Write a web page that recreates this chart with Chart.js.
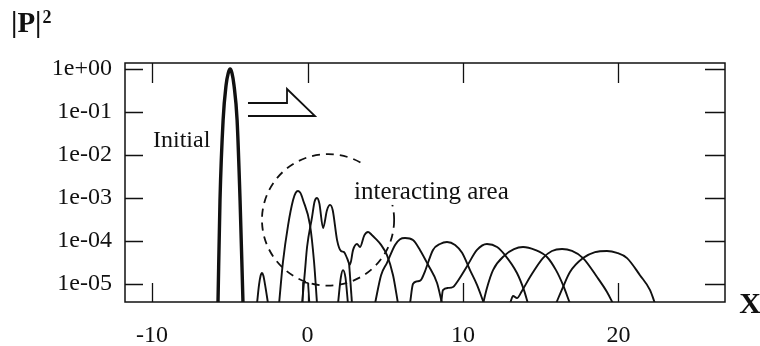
<!DOCTYPE html>
<html>
<head>
<meta charset="utf-8">
<script src="https://cdn.jsdelivr.net/npm/chart.js@4.4.1/dist/chart.umd.min.js"></script>
<style>
  html, body { margin: 0; padding: 0; background: #fff; }
  #wrap { width: 760px; height: 346px; position: relative; }
</style>
</head>
<body>
<div id="wrap"><canvas id="pulseChart"></canvas></div>
<script>
'use strict';

// axis ticks
const xTickValues = [-10, 0, 10, 20];
const xTickLabels = ['-10', '0', '10', '20'];
const yTickValues = [1, 1e-1, 1e-2, 1e-3, 1e-4, 1e-5];
const yTickLabels = ['1e+00', '1e-01', '1e-02', '1e-03', '1e-04', '1e-05'];

// |P|^2 profiles as [x, value]
const initialPulse = [
  [-5.76, 3.5e-6], [-5.63, 9e-4], [-5.43, 0.065], [-5.24, 0.42], [-5.10, 0.8], [-4.98, 1.0],
  [-4.86, 0.8], [-4.73, 0.42], [-4.53, 0.065], [-4.34, 9e-4], [-4.15, 3.5e-6]
];
const reflectedBump = [
  [-3.25, 3.5e-6], [-3.12, 9.5e-6], [-3.02, 1.55e-5], [-2.93, 1.8e-5], [-2.84, 1.55e-5],
  [-2.73, 9.5e-6], [-2.54, 3.5e-6]
];
const pulseA = [
  [-1.83, 3.5e-6], [-1.58, 3.25e-5], [-1.25, 2.35e-4], [-0.93, 9e-4], [-0.76, 1.32e-3],
  [-0.61, 1.45e-3], [-0.45, 1.3e-3], [-0.29, 9e-4], [0.16, 2.35e-4], [0.42, 3.25e-5],
  [0.61, 3.5e-6]
];
const pulseB = [
  [-0.35, 3.5e-6], [-0.16, 2.1e-5], [-0.03, 7.25e-5], [0.29, 3.6e-4], [0.45, 8.2e-4],
  [0.61, 1.0e-3], [0.76, 7.5e-4], [1.0, 2.0e-4], [1.25, 5.2e-4], [1.45, 6.9e-4],
  [1.62, 5.2e-4], [1.90, 1.05e-4], [2.15, 5.85e-5], [2.35, 5.5e-5], [2.54, 4.0e-5],
  [2.73, 2.8e-5], [2.93, 6.2e-5], [3.18, 8.5e-5], [3.38, 7.25e-5], [3.65, 1.35e-4],
  [3.89, 1.62e-4], [4.12, 1.4e-4], [4.34, 1.17e-4], [4.73, 8.1e-5], [5.11, 4.7e-5],
  [5.50, 1.6e-5], [5.82, 3.5e-6]
];
const pulseBTail = [[2.67, 3.1e-5], [2.86, 3.5e-6]];
const smallPeak = [[1.96, 3.5e-6], [2.14, 1.4e-5], [2.28, 2.1e-5], [2.44, 1.4e-5], [2.60, 3.5e-6]];
const notch = [[-0.32, 3.5e-6], [-0.29, 1.1e-5], [0.03, 1.05e-5], [0.13, 3.5e-6]];
const pulse1 = [
  [4.34, 3.5e-6], [4.73, 1.6e-5], [5.11, 3.1e-5], [5.63, 8.1e-5], [5.95, 1.1e-4],
  [6.27, 1.17e-4], [6.78, 1.05e-4], [7.23, 6.2e-5], [7.75, 2.8e-5], [8.33, 1.05e-5],
  [8.65, 3.5e-6]
];
const pulse2 = [
  [6.59, 3.5e-6], [6.78, 1.0e-5], [7.04, 1.15e-5], [7.30, 1.25e-5], [7.56, 2.0e-5],
  [8.07, 6.2e-5], [8.52, 8.5e-5], [8.97, 9.5e-5], [9.49, 8.1e-5], [9.94, 5.3e-5],
  [10.45, 2.1e-5], [10.90, 9.5e-6], [11.35, 3.5e-6]
];
const pulse3 = [
  [8.59, 3.5e-6], [8.71, 7.2e-6], [9.04, 8.1e-6], [9.36, 8.5e-6], [9.61, 1.1e-5],
  [10.26, 2.6e-5], [10.90, 6.2e-5], [11.54, 8.5e-5], [12.19, 7.25e-5], [12.70, 4.7e-5],
  [13.47, 1.8e-5], [13.92, 7.2e-6], [14.18, 3.5e-6]
];
const pulse4 = [
  [11.29, 3.5e-6], [11.54, 8.1e-6], [11.93, 2.1e-5], [12.70, 4.7e-5], [13.28, 6.5e-5],
  [13.86, 7.25e-5], [14.63, 6.2e-5], [15.40, 4.25e-5], [15.98, 2.1e-5], [16.43, 9.5e-6],
  [16.88, 3.5e-6]
];
const pulse5 = [
  [13.02, 3.5e-6], [13.22, 5.25e-6], [13.47, 4.7e-6], [13.79, 6.9e-6], [14.31, 1.45e-5],
  [15.14, 4.0e-5], [15.72, 5.85e-5], [16.37, 6.5e-5], [17.01, 5.85e-5], [17.72, 4.0e-5],
  [18.62, 1.45e-5], [19.26, 6.5e-6], [19.65, 3.5e-6]
];
const pulse6 = [
  [15.98, 3.5e-6], [16.43, 8.5e-6], [16.88, 1.9e-5], [17.72, 4.0e-5], [18.49, 5.5e-5],
  [19.26, 5.85e-5], [19.90, 5.3e-5], [20.55, 4.0e-5], [21.38, 1.6e-5], [22.03, 7.2e-6],
  [22.35, 3.5e-6]
];

// annotation anchors (data units)
const arrowX = [-3.83, -1.32, -1.32, 0.48, -3.83];
const arrowY = [0.162, 0.162, 0.343, 0.0807, 0.0807];
const circleCenter = { x: 1.32, y: 3.1e-4 };
const circleSpan = { x: 4.25, decades: 1.53 };

const SERIF = '"Liberation Serif", "Times New Roman", serif';
const INK = '#111';

const toPoints = function (pairs) {
  return pairs.map(p => ({ x: p[0], y: p[1] }));
};

const curve = function (pairs, width, tension) {
  return {
    data: toPoints(pairs),
    borderColor: INK,
    borderWidth: width,
    borderJoinStyle: 'round',
    pointRadius: 0,
    fill: false,
    tension: tension,
    cubicInterpolationMode: tension ? 'monotone' : 'default'
  };
};

const datasets = [
  curve(initialPulse, 3.4, 0.4),
  curve(reflectedBump, 1.9, 0.4),
  curve(pulseA, 1.9, 0.4),
  curve(pulseB, 1.9, 0.4),
  curve(pulseBTail, 1.9, 0),
  curve(smallPeak, 1.9, 0.4),
  curve(notch, 1.6, 0),
  curve(pulse1, 1.9, 0.4),
  curve(pulse2, 1.9, 0.4),
  curve(pulse3, 1.9, 0.4),
  curve(pulse4, 1.9, 0.4),
  curve(pulse5, 1.9, 0.4),
  curve(pulse6, 1.9, 0.4)
];

// dashed circle behind the curves
const interactingCircle = {
  id: 'interactingCircle',
  beforeDatasetsDraw(chart) {
    const { ctx, scales: { x, y } } = chart;
    const cx = x.getPixelForValue(circleCenter.x);
    const cy = y.getPixelForValue(circleCenter.y);
    const rx = x.getPixelForValue(circleCenter.x + circleSpan.x) - cx;
    const ry = cy - y.getPixelForValue(circleCenter.y * Math.pow(10, circleSpan.decades));
    ctx.save();
    ctx.strokeStyle = INK;
    ctx.lineWidth = 1.8;
    ctx.setLineDash([8, 6]);
    ctx.beginPath();
    ctx.ellipse(cx, cy, rx, ry, 0, 0, Math.PI * 2);
    ctx.stroke();
    ctx.restore();
  }
};

// frame, inward ticks, labels and arrow
const decorations = {
  id: 'decorations',
  afterDraw(chart) {
    const { ctx, chartArea: area, scales: { x, y } } = chart;
    ctx.save();

    // label with white box over the circle
    ctx.font = '25px ' + SERIF;
    ctx.textBaseline = 'alphabetic';
    const ix = x.getPixelForValue(2.99);
    const iy = y.getPixelForValue(9.5e-4);
    const iw = ctx.measureText('interacting area').width;
    ctx.fillStyle = '#fff';
    ctx.fillRect(ix - 6, iy - 34, iw + 10, 40);
    ctx.fillStyle = INK;
    ctx.fillText('interacting area', ix, iy);

    ctx.font = '24px ' + SERIF;
    ctx.fillText('Initial', x.getPixelForValue(-9.94), y.getPixelForValue(0.0154));

    // arrow
    ctx.strokeStyle = INK;
    ctx.lineWidth = 1.8;
    ctx.setLineDash([]);
    ctx.beginPath();
    arrowX.forEach((v, i) => {
      const px = x.getPixelForValue(v);
      const py = y.getPixelForValue(arrowY[i]);
      if (i === 0) ctx.moveTo(px, py); else ctx.lineTo(px, py);
    });
    ctx.stroke();

    // frame
    ctx.lineWidth = 1.5;
    ctx.strokeRect(area.left, area.top, area.right - area.left, area.bottom - area.top);

    // inward ticks
    ctx.lineWidth = 1.3;
    ctx.beginPath();
    xTickValues.forEach(v => {
      const px = Math.round(x.getPixelForValue(v)) + 0.5;
      ctx.moveTo(px, area.top); ctx.lineTo(px, area.top + 20);
      ctx.moveTo(px, area.bottom); ctx.lineTo(px, area.bottom - 19);
    });
    yTickValues.forEach(v => {
      const py = Math.round(y.getPixelForValue(v)) + 0.5;
      ctx.moveTo(area.left, py); ctx.lineTo(area.left + 18, py);
      ctx.moveTo(area.right, py); ctx.lineTo(area.right - 20, py);
    });
    ctx.stroke();

    // axis names
    ctx.fillStyle = INK;
    ctx.textAlign = 'left';
    ctx.font = 'bold 29px ' + SERIF;
    ctx.fillText('|P|', 11, 32);
    const pw = ctx.measureText('|P|').width;
    ctx.font = 'bold 18px ' + SERIF;
    ctx.fillText('2', 11 + pw + 1, 23);
    ctx.font = 'bold 30px ' + SERIF;
    ctx.textAlign = 'center';
    ctx.fillText('X', 750, 313);

    ctx.restore();
  }
};

const ctx = document.getElementById('pulseChart').getContext('2d');

const pulseChart = new Chart(ctx, {
  type: 'line',
  data: { datasets: datasets },
  plugins: [interactingCircle, decorations],
  options: {
    responsive: true,
    maintainAspectRatio: false,
    animation: false,
    layout: { padding: { top: 63, right: 35, left: 0, bottom: 0 } },
    plugins: {
      legend: { display: false },
      tooltip: { enabled: false },
      title: { display: false }
    },
    scales: {
      x: {
        type: 'linear',
        min: -11.74,
        max: 26.85,
        afterBuildTicks: scale => { scale.ticks = xTickValues.map(v => ({ value: v })); },
        afterFit: scale => { scale.height = 44; },
        grid: { display: false, drawTicks: false },
        border: { display: false },
        ticks: {
          color: INK,
          padding: 19,
          maxRotation: 0,
          font: { family: SERIF, size: 24 },
          callback: value => xTickLabels[xTickValues.indexOf(value)]
        }
      },
      y: {
        type: 'logarithmic',
        min: 3.81e-6,
        max: 1.379,
        afterBuildTicks: scale => { scale.ticks = yTickValues.map(v => ({ value: v })); },
        afterFit: scale => { scale.width = 125; },
        grid: { display: false, drawTicks: false },
        border: { display: false },
        ticks: {
          color: INK,
          padding: 13,
          font: { family: SERIF, size: 24 },
          callback: value => yTickLabels[yTickValues.indexOf(value)]
        }
      }
    }
  }
});
</script>
</body>
</html>
